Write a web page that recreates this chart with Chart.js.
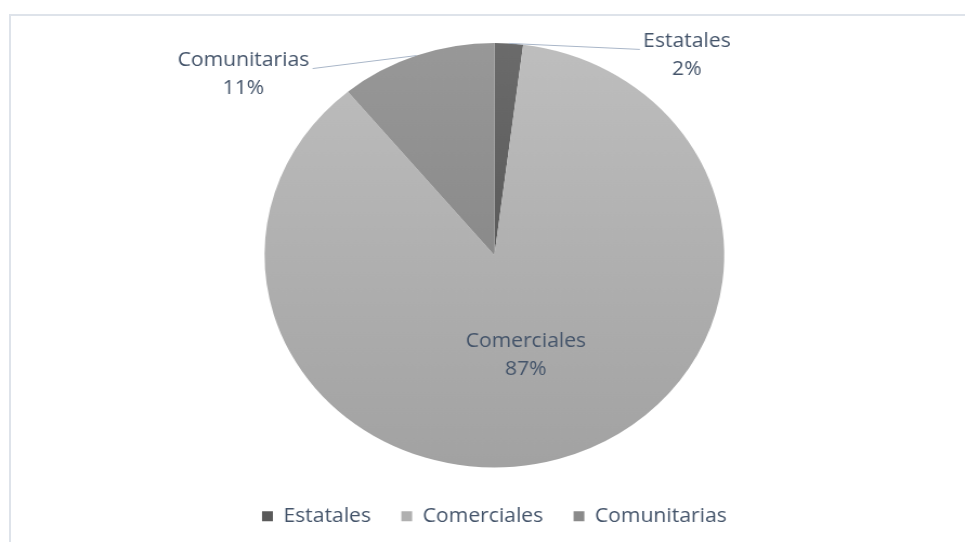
<!DOCTYPE html>
<html>
<head>
<meta charset="utf-8">
<script src="https://cdn.jsdelivr.net/npm/chart.js@4.4.0/dist/chart.umd.min.js"></script>
<style>
html, body { margin: 0; padding: 0; background: #fff; overflow: hidden; }
#frame { position: absolute; left: 9px; top: 14px; width: 970px; height: 540px;
         border-top: 2px solid #dee3ea; border-left: 2px solid #dee3ea; }
/* the original picture is stretched a little horizontally */
#wrap { position: absolute; left: 0; top: 0; width: 891px; height: 542px;
        transform: scaleX(1.083); transform-origin: 0 0; }
</style>
</head>
<body>
<div id="frame"></div>
<div id="wrap"><canvas id="pie" width="891" height="542"></canvas></div>
<script>
const categories = ['Estatales', 'Comerciales', 'Comunitarias'];
const shares = [2, 87, 11];

const topColors = ['#6b6b6b', '#bebebe', '#989898'];
const bottomColors = ['#4a4a4a', '#a2a2a2', '#7c7c7c'];
const legendColors = ['#5a5a5a', '#b0b0b0', '#8a8a8a'];
const textColor = '#44546a';
const fontSize = 19.5;

// where each data label goes: inside the slice, or outside with a leader line
const labelPlacement = [
    { dx: 121, dy: 6 },
    { inside: 0.49 },
    { dx: -96, dy: 13 }
];

const sliceLabels = {
    id: 'sliceLabels',
    afterDatasetsDraw(chart) {
        const ctx = chart.ctx;
        const total = shares.reduce((a, b) => a + b, 0);
        ctx.save();
        ctx.font = fontSize + 'px "Open Sans"';
        ctx.fillStyle = textColor;
        ctx.textAlign = 'center';
        ctx.textBaseline = 'middle';
        chart.getDatasetMeta(0).data.forEach((arc, i) => {
            const p = arc.getProps(['x', 'y', 'startAngle', 'endAngle', 'outerRadius'], true);
            const mid = (p.startAngle + p.endAngle) / 2;
            const lines = [categories[i], Math.round(shares[i] / total * 100) + '%'];
            const place = labelPlacement[i];
            let tx, ty;
            if (place.inside) {
                tx = p.x + Math.cos(mid) * p.outerRadius * place.inside;
                ty = p.y + Math.sin(mid) * p.outerRadius * place.inside;
            } else {
                const ex = p.x + Math.cos(mid) * p.outerRadius;
                const ey = p.y + Math.sin(mid) * p.outerRadius;
                const lx = ex + place.dx, ly = ey + place.dy;
                ctx.strokeStyle = '#a9b6c8';
                ctx.lineWidth = 1;
                ctx.beginPath();
                ctx.moveTo(ex, ey);
                ctx.lineTo(lx, ly);
                ctx.stroke();
                const w = Math.max(...lines.map(l => ctx.measureText(l).width));
                tx = lx + Math.sign(place.dx) * (w / 2 + 3);
                ty = ly + 6;
            }
            ctx.fillText(lines[0], tx, ty - 14);
            ctx.fillText(lines[1], tx, ty + 14);
        });
        ctx.restore();
    }
};

new Chart(document.getElementById('pie').getContext('2d'), {
    type: 'pie',
    data: {
        labels: categories,
        datasets: [{
            data: shares,
            backgroundColor: (c) => {
                const area = c.chart.chartArea;
                if (!area || c.dataIndex === undefined) return legendColors[c.dataIndex || 0];
                const g = c.chart.ctx.createLinearGradient(0, area.top, 0, area.bottom);
                g.addColorStop(0, topColors[c.dataIndex]);
                g.addColorStop(1, bottomColors[c.dataIndex]);
                return g;
            },
            borderWidth: 0,
            hoverOffset: 0
        }]
    },
    options: {
        responsive: false,
        animation: false,
        layout: { padding: { top: 43, left: 22, right: 0, bottom: 6 } },
        plugins: {
            tooltip: { enabled: false },
            legend: {
                position: 'bottom',
                // empty title only used as a spacer above the items
                title: { display: true, text: ' ', padding: 0, font: { size: 9.2 } },
                labels: {
                    boxWidth: 10,
                    boxHeight: 10,
                    padding: 28,
                    color: textColor,
                    font: { family: 'Open Sans', size: fontSize },
                    generateLabels: () => categories.map((c, i) => ({
                        text: c,
                        fillStyle: legendColors[i],
                        strokeStyle: legendColors[i],
                        lineWidth: 0,
                        fontColor: textColor,
                        hidden: false,
                        index: i
                    }))
                }
            }
        }
    },
    plugins: [sliceLabels]
});
</script>
</body>
</html>
